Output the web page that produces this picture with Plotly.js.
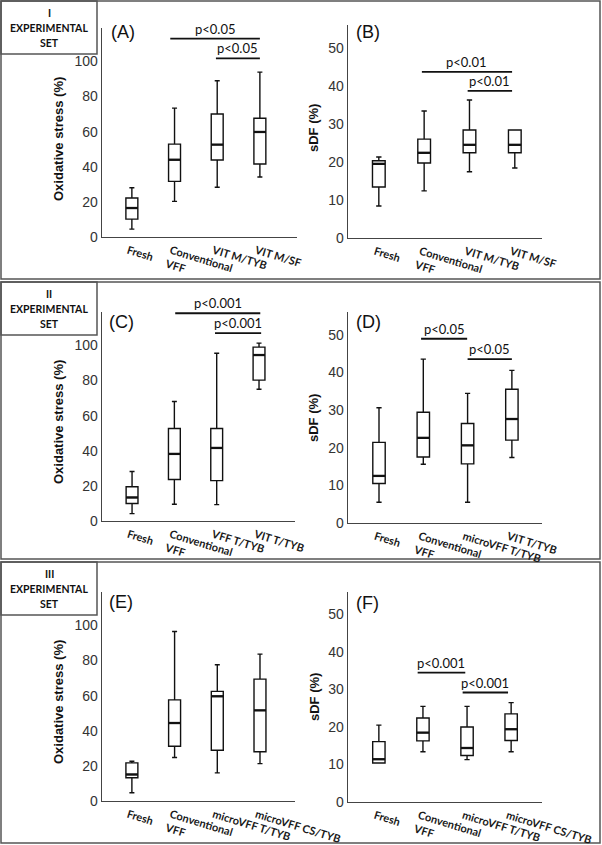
<!DOCTYPE html>
<html>
<head>
<meta charset="utf-8">
<script src="https://cdn.plot.ly/plotly-3.0.1.min.js"></script>
<style>html,body{margin:0;padding:0;background:#fff;}#chart{width:602px;height:845px;}</style>
</head>
<body>
<div id="chart"></div>
<script>
// ---------- DATA ----------
const catsA = ['Fresh', 'Conventional<br>VFF', 'VIT M/TYB', 'VIT M/SF'];
const catsC = ['Fresh', 'Conventional<br>VFF', 'VFF T/TYB', 'VIT T/TYB'];
const catsD = ['Fresh', 'Conventional<br>VFF', 'microVFF T/TYB', 'VIT T/TYB'];
const catsE = ['Fresh', 'Conventional<br>VFF', 'microVFF T/TYB', 'microVFF CS/TYB'];

const oxTicks = [0, 20, 40, 60, 80, 100];
const sdfTicks = [0, 10, 20, 30, 40, 50];

// Panel A: Oxidative stress, I set
const A_low = [4.5, 20.3, 28.3, 34.2];
const A_q1  = [10.2, 31.7, 43.8, 41.6];
const A_med = [16.5, 44.0, 52.6, 59.8];
const A_q3  = [22.2, 52.9, 70.0, 67.6];
const A_up  = [28.0, 73.4, 89.0, 93.9];
// Panel B: sDF, I set
const B_low = [8.4, 12.4, 17.4, 18.4];
const B_q1  = [13.4, 19.7, 22.4, 22.4];
const B_med = [19.5, 22.4, 24.5, 24.5];
const B_q3  = [20.3, 26.0, 28.4, 28.4];
const B_up  = [21.3, 33.4, 36.3, 28.4];
// Panel C: Oxidative stress, II set
const C_low = [4.2, 9.5, 9.3, 75.0];
const C_q1  = [10.0, 23.6, 23.0, 80.2];
const C_med = [13.4, 38.2, 41.6, 94.5];
const C_q3  = [19.5, 52.7, 52.7, 99.0];
const C_up  = [28.2, 68.0, 95.5, 101.3];
// Panel D: sDF, II set
const D_low = [5.5, 15.6, 5.5, 17.4];
const D_q1  = [10.5, 17.5, 15.7, 22.0];
const D_med = [12.5, 22.6, 20.6, 27.6];
const D_q3  = [21.4, 29.4, 26.4, 35.5];
const D_up  = [30.6, 43.5, 34.4, 40.5];
// Panel E: Oxidative stress, III set
const E_low = [4.7, 24.8, 16.0, 21.3];
const E_q1  = [13.2, 31.2, 28.9, 28.0];
const E_med = [15.1, 44.4, 59.6, 51.6];
const E_q3  = [21.7, 57.6, 62.4, 69.4];
const E_up  = [22.6, 96.5, 77.6, 83.6];
// Panel F: sDF, III set
const F_low = [10.4, 13.4, 11.3, 13.4];
const F_q1  = [10.4, 16.3, 12.4, 16.4];
const F_med = [11.4, 18.5, 14.4, 19.4];
const F_q3  = [16.1, 22.4, 20.0, 23.5];
const F_up  = [20.5, 25.5, 25.5, 26.5];

// significance bars: [from, to, level, label]
const A_sig = [[0.9, 3.0, 113, 'p<0.05'], [1.97, 3.0, 101.7, 'p<0.05']];
const B_sig = [[0.95, 2.94, 43.7, 'p<0.01'], [1.96, 2.94, 38.7, 'p<0.01']];
const C_sig = [[1.02, 3.03, 118.3, 'p<0.001'], [1.96, 3.05, 107, 'p<0.001']];
const D_sig = [[0.95, 1.99, 48.9, 'p<0.05'], [2.0, 3.0, 43.5, 'p<0.05']];
const F_sig = [[0.88, 1.96, 34.5, 'p<0.001'], [1.9, 2.93, 29.2, 'p<0.001']];

const setNumerals = ['I', 'II', 'III'];
const setWords = ['EXPERIMENTAL', 'SET'];
const panelLetters = ['(A)', '(B)', '(C)', '(D)', '(E)', '(F)'];
const yTitles = ['Oxidative stress (%)', 'sDF (%)'];

// ---------- LAYOUT HELPERS ----------
const W = 602, H = 845;
const px = x => x / W;
const py = y => 1 - y / H;

const narrow = '"Liberation Sans Narrow", "Arial Narrow", "Liberation Sans", Arial, sans-serif';

const panels = [
  {key: '', cats: catsA, low: A_low, q1: A_q1, med: A_med, q3: A_q3, up: A_up, sig: A_sig, ox: true,
   xl: 102, xr: 297, yt: 28, yb: 237, xrange: [-0.70, 3.87], letter: [109, 32], title: [58, 139]},
  {key: '2', cats: catsA, low: B_low, q1: B_q1, med: B_med, q3: B_q3, up: B_up, sig: B_sig, ox: false,
   xl: 348, xr: 542, yt: 25, yb: 238, xrange: [-0.68, 3.60], letter: [354, 32], title: [314, 128]},
  {key: '3', cats: catsC, low: C_low, q1: C_q1, med: C_med, q3: C_q3, up: C_up, sig: C_sig, ox: true,
   xl: 102, xr: 295, yt: 312, yb: 521, xrange: [-0.71, 3.85], letter: [107, 322], title: [58, 422]},
  {key: '4', cats: catsD, low: D_low, q1: D_q1, med: D_med, q3: D_q3, up: D_up, sig: D_sig, ox: false,
   xl: 348, xr: 542, yt: 312, yb: 523, xrange: [-0.70, 3.68], letter: [354, 322], title: [314, 418]},
  {key: '5', cats: catsE, low: E_low, q1: E_q1, med: E_med, q3: E_q3, up: E_up, sig: [], ox: true,
   xl: 102, xr: 295, yt: 592, yb: 801, xrange: [-0.70, 3.82], letter: [107, 602], title: [58, 702]},
  {key: '6', cats: catsE, low: F_low, q1: F_q1, med: F_med, q3: F_q3, up: F_up, sig: F_sig, ox: false,
   xl: 348, xr: 542, yt: 592, yb: 802, xrange: [-0.70, 3.70], letter: [354, 603], title: [314, 697]}
];

const data = [];
const layout = {
  width: W, height: H,
  margin: {l: 0, r: 0, t: 0, b: 0},
  paper_bgcolor: '#fff', plot_bgcolor: '#fff',
  showlegend: false,
  hovermode: false,
  shapes: [], annotations: []
};

const BOXW = 0.28;
const tickFont = {family: 'Lato, "Liberation Sans", sans-serif', size: 11, color: '#1a1a1a', weight: 'bold'};
const yTickFont = {family: narrow, size: 14, color: '#333'};

panels.forEach((p, i) => {
  const xa = 'x' + p.key, ya = 'y' + p.key;
  const idx = [0, 1, 2, 3];
  data.push({
    type: 'box', xaxis: xa, yaxis: ya,
    x: idx, q1: p.q1, median: p.med, q3: p.q3, lowerfence: p.low, upperfence: p.up,
    boxpoints: false, width: BOXW, whiskerwidth: 0.42,
    fillcolor: '#fff', line: {color: '#111', width: 1.4}
  });
  const mx = [], my = [];
  idx.forEach(k => { mx.push(k - BOXW / 2, k + BOXW / 2, null); my.push(p.med[k], p.med[k], null); });
  data.push({type: 'scatter', mode: 'lines', xaxis: xa, yaxis: ya, x: mx, y: my,
             line: {color: '#111', width: 2.3}, hoverinfo: 'skip'});

  layout['xaxis' + p.key] = {
    domain: [px(p.xl), px(p.xr)], anchor: ya, range: p.xrange,
    tickmode: 'array', tickvals: idx, ticktext: p.cats, tickangle: 17,
    ticklabelshift: -4, ticklabelstandoff: 2, ticklabeloverflow: 'allow',
    showline: true, linecolor: '#444', linewidth: 1.3, ticks: '',
    showgrid: false, zeroline: false, tickfont: tickFont, fixedrange: true
  };
  layout['yaxis' + p.key] = {
    domain: [py(p.yb), py(p.yt)], anchor: xa, range: p.ox ? [0, 119] : [0, 56],
    tickmode: 'array', tickvals: p.ox ? oxTicks : sdfTicks,
    showline: true, linecolor: '#444', linewidth: 1.3, ticks: '',
    showgrid: false, zeroline: false, tickfont: yTickFont, fixedrange: true
  };

  p.sig.forEach(s => {
    layout.shapes.push({type: 'line', xref: xa, yref: ya, x0: s[0], x1: s[1], y0: s[2], y1: s[2],
                        line: {color: '#111', width: 1.8}});
    layout.annotations.push({xref: xa, yref: ya, x: (s[0] + s[1]) / 2, y: s[2], text: s[3],
                             showarrow: false, xanchor: 'center', yanchor: 'bottom', yshift: 0,
                             font: {family: 'Lato, sans-serif', size: 13, color: '#111'}});
  });

  layout.annotations.push({xref: 'paper', yref: 'paper', x: px(p.letter[0]), y: py(p.letter[1]),
                           text: panelLetters[i], showarrow: false, xanchor: 'left', yanchor: 'middle',
                           font: {family: narrow, size: 18, color: '#111'}});
  layout.annotations.push({xref: 'paper', yref: 'paper', x: px(p.title[0]), y: py(p.title[1]),
                           text: p.ox ? yTitles[0] : yTitles[1], textangle: -90, showarrow: false,
                           xanchor: 'center', yanchor: 'middle',
                           font: {family: narrow, size: 13, color: '#111', weight: 'bold'}});
});

// frames of the three experimental sets
const rows = [[1, 279], [282, 559], [562, 843]];
const setFont = {family: 'Lato, sans-serif', size: 10.5, color: '#111', weight: 'bold'};
rows.forEach((r, i) => {
  layout.shapes.push({type: 'rect', xref: 'paper', yref: 'paper', x0: px(1), x1: px(600), y0: py(r[1]), y1: py(r[0]),
                      line: {color: '#555', width: 1.5}, fillcolor: 'rgba(0,0,0,0)', layer: 'below'});
  layout.shapes.push({type: 'rect', xref: 'paper', yref: 'paper', x0: px(1), x1: px(97), y0: py(r[0] + 53), y1: py(r[0]),
                      line: {color: '#555', width: 1.5}, fillcolor: 'rgba(0,0,0,0)', layer: 'below'});
  const lines = [setNumerals[i], setWords[0], setWords[1]];
  const offs = [12, 27, 42];
  lines.forEach((t, k) => {
    layout.annotations.push({xref: 'paper', yref: 'paper', x: px(49), y: py(r[0] + offs[k]), text: t,
                             showarrow: false, xanchor: 'center', yanchor: 'middle', font: setFont});
  });
});

Plotly.newPlot('chart', data, layout, {displayModeBar: false, staticPlot: true});
</script>
</body>
</html>
